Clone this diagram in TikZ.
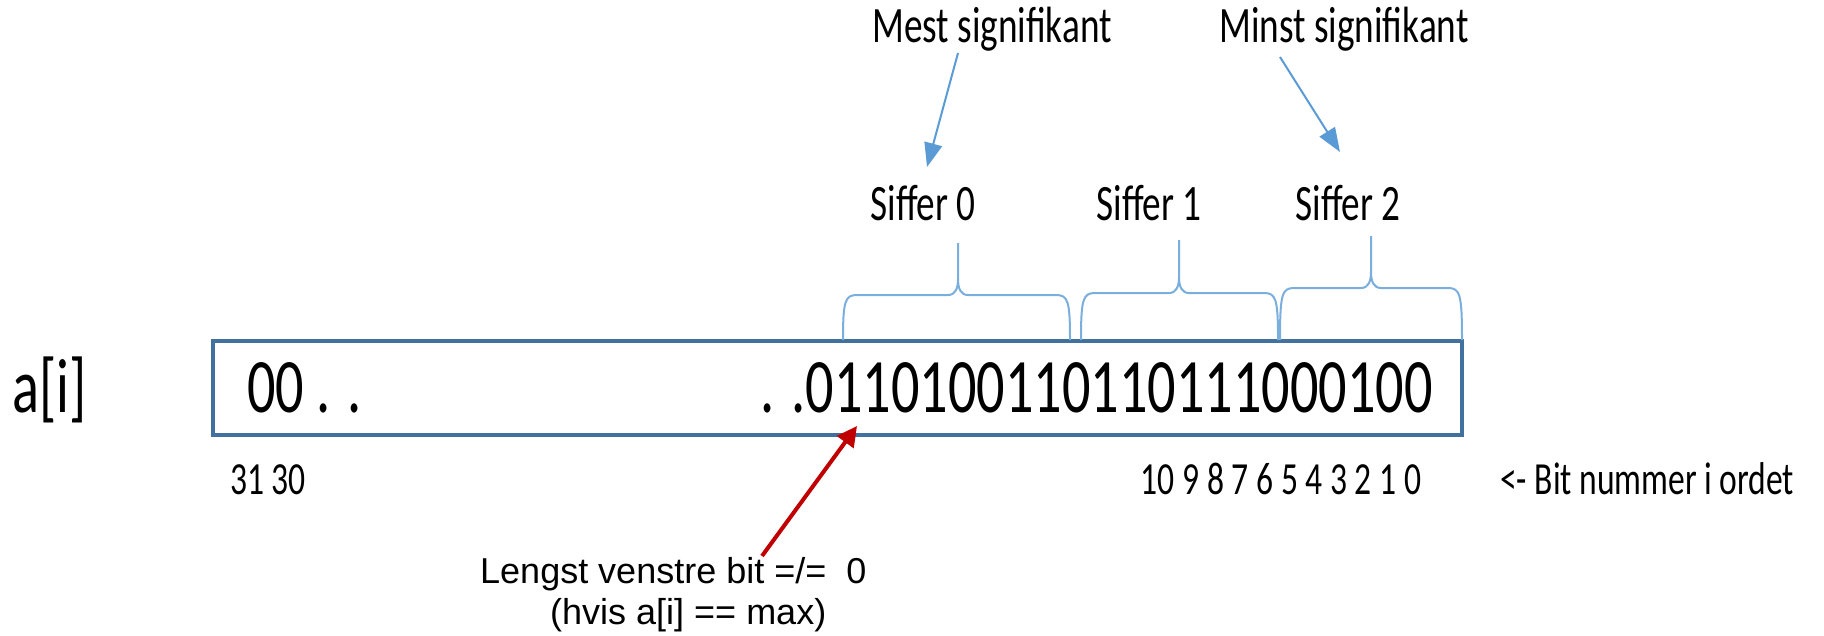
\documentclass[tikz,border=0pt]{standalone}
\usepackage{fontspec}
\setmainfont{Carlito}
\newfontfamily\calfont{Carlito}[FakeStretch=0.73]
\newfontfamily\arialfont{Liberation Sans}
\usetikzlibrary{arrows.meta}
\definecolor{boxblue}{HTML}{41719C}
\definecolor{braceblue}{HTML}{7AAEDD}
\definecolor{arrowblue}{HTML}{5B9BD5}
\definecolor{darkred}{HTML}{C00000}
\newcommand\drawbrace[6]{% x0, x1, xc, yflat, ytip, ybot
  \draw[bracestyle] (#1,#6) .. controls (#1,#4+6) and (#1+2,#4) .. (#1+14,#4)
    -- (#3-10,#4) .. controls (#3-3,#4) and (#3,#4-6) .. (#3,#4-16) -- (#3,#5);
  \draw[bracestyle] (#2,#6) .. controls (#2,#4+6) and (#2-2,#4) .. (#2-14,#4)
    -- (#3+10,#4) .. controls (#3+3,#4) and (#3,#4-6) .. (#3,#4-16);
}
\begin{document}
\begin{tikzpicture}[x=1pt,y=-1pt,
  big/.style={font=\calfont\fontsize{77}{77}\selectfont, inner sep=0pt},
  head/.style={font=\calfont\fontsize{51}{51}\selectfont, inner sep=0pt},
  small/.style={font=\calfont\fontsize{46}{46}\selectfont, inner sep=0pt},
  note/.style={font=\arialfont\fontsize{36}{36}\selectfont, inner sep=0pt},
  bracestyle/.style={draw=braceblue, line width=2pt, line join=round},
  bluearrow/.style={draw=arrowblue, line width=2pt, -{Triangle[length=24pt,width=18pt]}},
  redarrow/.style={draw=darkred, line width=4pt, -{Triangle[length=20pt,width=20pt]}},
]
\useasboundingbox (0,0) rectangle (1824,635);
% word box
\node[draw=boxblue, line width=4pt, minimum width=1249pt, minimum height=94pt,
      inner sep=0pt, outer sep=0pt, anchor=north west] (word) at (213,341) {};
% texts
\node[big, anchor=base west] (ai) at (12,412) {a[i]};
\node[big, anchor=base west] (lead) at (247,412) {00 . .};
\node[big, anchor=base east] (bits) at (1433,412) {. .0110100110110111000100};
\node[head, anchor=base] (mest) at (992,42) {Mest signifikant};
\node[head, anchor=base] (minst) at (1344,42) {Minst signifikant};
\node[head, anchor=base] (s0) at (923,220) {Siffer 0};
\node[head, anchor=base] (s1) at (1149,220) {Siffer 1};
\node[head, anchor=base] (s2) at (1348,220) {Siffer 2};
\node[small, anchor=base west] (bhigh) at (230,494) {31 30};
\node[small, anchor=base] (blow) at (1281,494) {10 9 8 7 6 5 4 3 2 1 0};
\node[small, anchor=base west] (bitlabel) at (1500,494) {<- Bit nummer i ordet};
\node[note, anchor=base west] (n1) at (480,583) {Lengst venstre bit =/=\ \ 0};
\node[note, anchor=base west] (n2) at (550,624) {(hvis a[i] == max)};
% braces
\drawbrace{843}{1070}{958}{295}{243}{340}
\drawbrace{1081}{1278}{1179}{293}{240}{340}
\drawbrace{1280}{1462}{1371}{288}{236}{340}
% connectors
\coordinate (mestfoot) at (958,53);
\coordinate (s0top) at (927,167);
\coordinate (minstfoot) at (1280,57);
\coordinate (s2top) at (1340,152);
\coordinate (redstart) at (762,556);
\coordinate (msb) at (857,426);
\draw[bluearrow] (mestfoot) -- (s0top);
\draw[bluearrow] (minstfoot) -- (s2top);
\draw[redarrow] (redstart) -- (msb);
\end{tikzpicture}
\end{document}
